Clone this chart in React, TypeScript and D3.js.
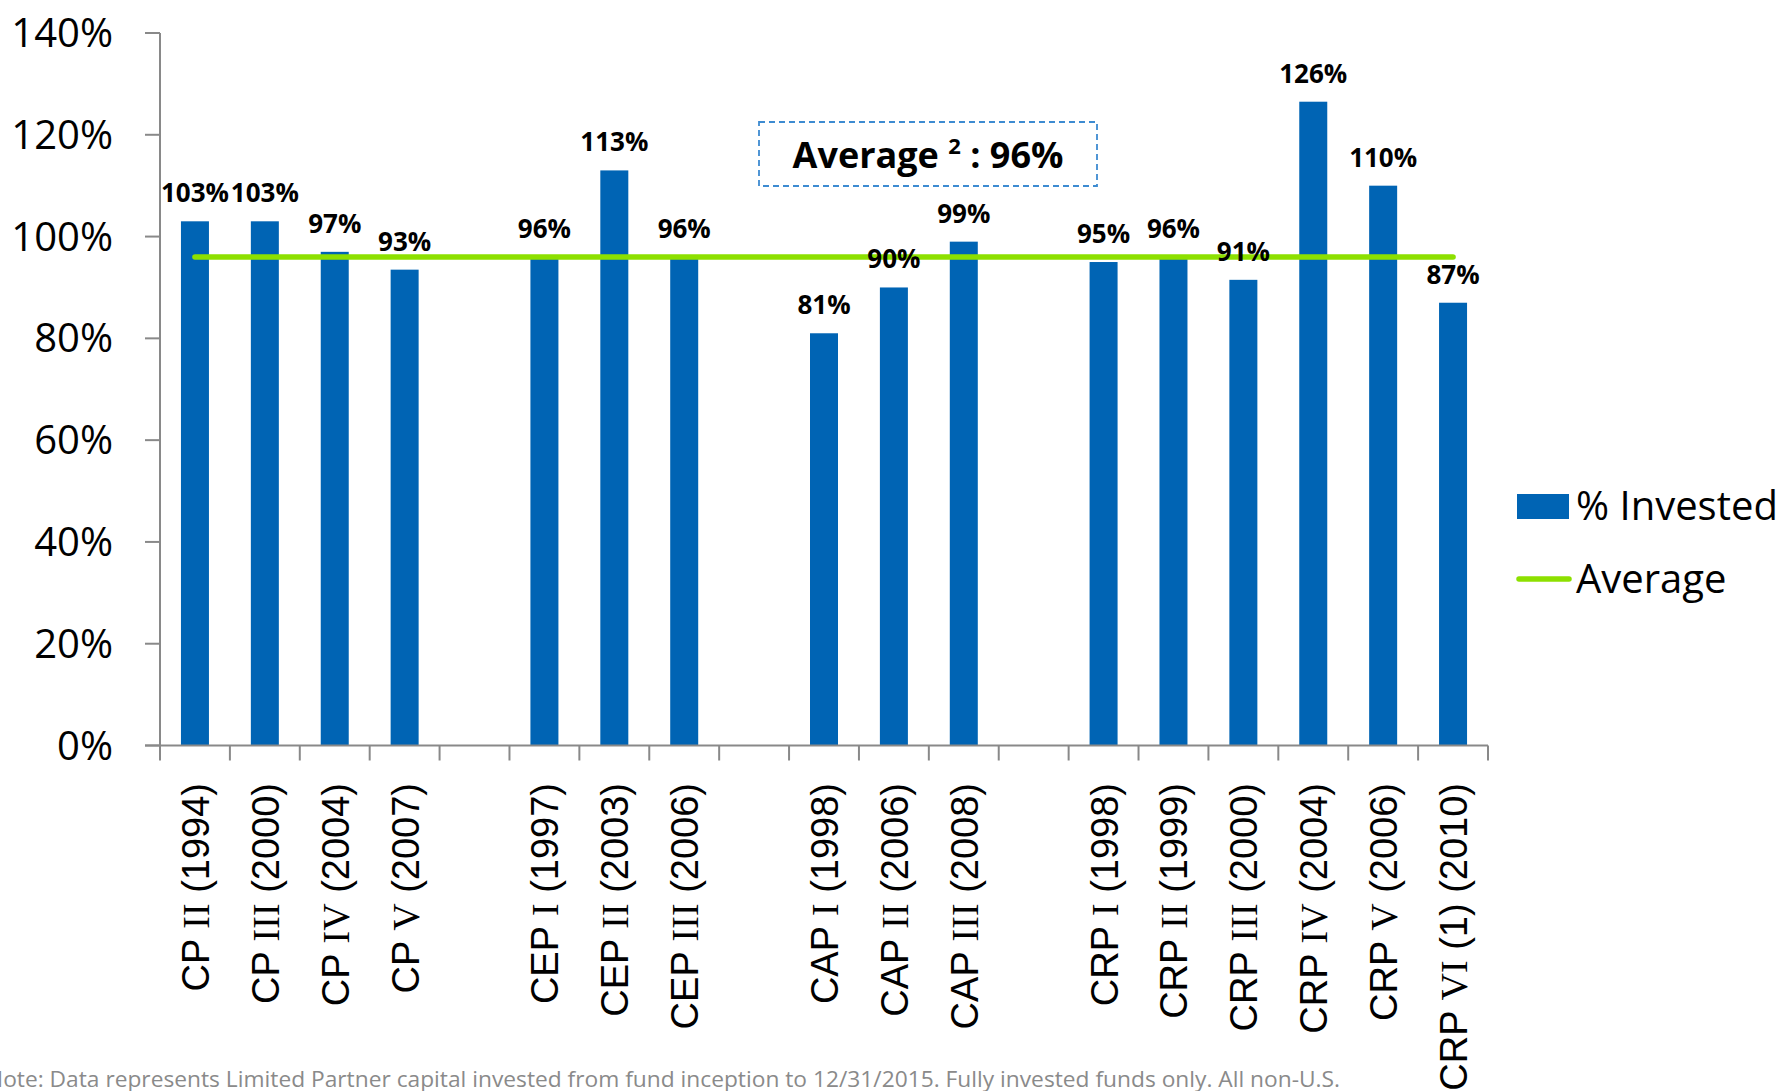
import React from "react";
import * as d3 from "d3";

// ---- data ----
const funds: string[] = [
  "CP II (1994)", "CP III (2000)", "CP IV (2004)", "CP V (2007)", "",
  "CEP I (1997)", "CEP II (2003)", "CEP III (2006)", "",
  "CAP I (1998)", "CAP II (2006)", "CAP III (2008)", "",
  "CRP I (1998)", "CRP II (1999)", "CRP III (2000)", "CRP IV (2004)", "CRP V (2006)", "CRP VI (1) (2010)",
];
const invested: (number | null)[] = [
  103, 103, 97, 93.5, null,
  96, 113, 96, null,
  81, 90, 99, null,
  95, 96, 91.5, 126.5, 110, 87,
];
const labels: string[] = [
  "103%", "103%", "97%", "93%", "",
  "96%", "113%", "96%", "",
  "81%", "90%", "99%", "",
  "95%", "96%", "91%", "126%", "110%", "87%",
];
const averageValue = 96;
const yTicks: number[] = [0, 20, 40, 60, 80, 100, 120, 140];
const legendItems: string[] = ["% Invested", "Average"];
const boxText = { main: "Average ", sup: "2", tail: " : 96%" };
const footnote =
  "Note: Data represents Limited Partner capital invested from fund inception to 12/31/2015. Fully invested funds only. All non-U.S.";

const W = 1781;
const H = 1091;
const BAR = "#0064b4";
const GREEN = "#8de000";
const AXIS = "#898989";
const SANS = "'Open Sans', 'Noto Sans', sans-serif";
const ARIAL = "'Liberation Sans', Arial, sans-serif";
const SERIF = "'Liberation Serif', serif";

function splitLabel(s: string) {
  // split roman numeral part to render it in serif
  const m = s.match(/^(\S+) ([IVX]+)(.*)$/);
  if (!m) return { a: s, r: "", b: "" };
  return { a: m[1] + " ", r: m[2], b: m[3] };
}

export default function App() {
  const left = 160;
  const right = 1488;
  const y = d3.scaleLinear().domain([0, 140]).range([745.5, 33]);
  const x = d3
    .scaleBand<number>()
    .domain(funds.map((_, i) => i))
    .range([left, right])
    .paddingInner(0)
    .paddingOuter(0);
  const bw = 28;
  const cx = (i: number) => (x(i) as number) + x.bandwidth() / 2;
  const firstIdx = 0;
  const lastIdx = funds.length - 1;
  const y0 = y(0);

  return (
    <svg
      width={W}
      height={H}
      viewBox={`0 0 ${W} ${H}`}
      style={{ position: "absolute", left: 0, top: 0, background: "#fff" }}
    >
      <rect x={0} y={0} width={W} height={H} fill="#fff" />

      {/* y axis */}
      <line x1={left} x2={left} y1={y(140)} y2={y0} stroke={AXIS} strokeWidth={2} />
      {yTicks.map((t) => (
        <g key={t}>
          <line x1={145} x2={left} y1={y(t)} y2={y(t)} stroke={AXIS} strokeWidth={2} />
          <text
            x={113}
            y={y(t) + 14}
            textAnchor="end"
            fontFamily={SANS}
            fontSize={40}
            fill="#000"
          >
            {t}%
          </text>
        </g>
      ))}

      {/* bars */}
      {invested.map((v, i) =>
        v == null ? null : (
          <rect
            key={i}
            x={cx(i) - bw / 2}
            y={y(v)}
            width={bw}
            height={y0 - y(v)}
            fill={BAR}
          />
        )
      )}

      {/* x axis */}
      <line x1={145} x2={right} y1={y0} y2={y0} stroke={AXIS} strokeWidth={2} />
      {d3.range(funds.length + 1).map((k) => {
        const xx = left + k * x.bandwidth();
        return <line key={k} x1={xx} x2={xx} y1={y0} y2={y0 + 15} stroke={AXIS} strokeWidth={2} />;
      })}

      {/* average line */}
      <line
        x1={cx(firstIdx)}
        x2={cx(lastIdx)}
        y1={y(averageValue)}
        y2={y(averageValue)}
        stroke={GREEN}
        strokeWidth={5.5}
        strokeLinecap="round"
      />

      {/* value labels */}
      {invested.map((v, i) =>
        v == null ? null : (
          <text
            key={i}
            x={cx(i)}
            y={y(v) - 19}
            textAnchor="middle"
            fontFamily={SANS}
            fontWeight={700}
            fontSize={26}
            fill="#000"
          >
            {labels[i]}
          </text>
        )
      )}

      {/* category labels */}
      {funds.map((f, i) => {
        if (!f) return null;
        const p = splitLabel(f);
        return (
          <text
            key={i}
            transform={`translate(${cx(i) + 14},783) rotate(-90)`}
            textAnchor="end"
            fontFamily={ARIAL}
            fontSize={38}
            fill="#000"
          >
            {p.a}
            <tspan fontFamily={SERIF}>{p.r}</tspan>
            {p.b}
          </text>
        );
      })}

      {/* annotation box */}
      <rect
        x={759}
        y={122}
        width={338}
        height={64}
        fill="none"
        stroke="#3d8bd1"
        strokeWidth={1.8}
        strokeDasharray="6 4"
      />
      <text
        x={928}
        y={168}
        textAnchor="middle"
        fontFamily={SANS}
        fontWeight={700}
        fontSize={36}
        fill="#000"
      >
        {boxText.main}
        <tspan fontSize={22} dy={-14}>{boxText.sup}</tspan>
        <tspan dy={14}>{boxText.tail}</tspan>
      </text>

      {/* legend */}
      <rect x={1517} y={494} width={52} height={25} fill={BAR} />
      <text x={1576} y={520} fontFamily={SANS} fontSize={40} fill="#000">
        {legendItems[0]}
      </text>
      <line x1={1519} x2={1569} y1={579} y2={579} stroke={GREEN} strokeWidth={5.5} strokeLinecap="round" />
      <text x={1576} y={593} fontFamily={SANS} fontSize={40} fill="#000">
        {legendItems[1]}
      </text>

      {/* footnote */}
      <text
        x={-14}
        y={1087}
        fontFamily={SANS}
        fontSize={21}
        fill="#8a8a8a"
        textLength={1354}
        lengthAdjust="spacingAndGlyphs"
      >
        {footnote}
      </text>
    </svg>
  );
}
